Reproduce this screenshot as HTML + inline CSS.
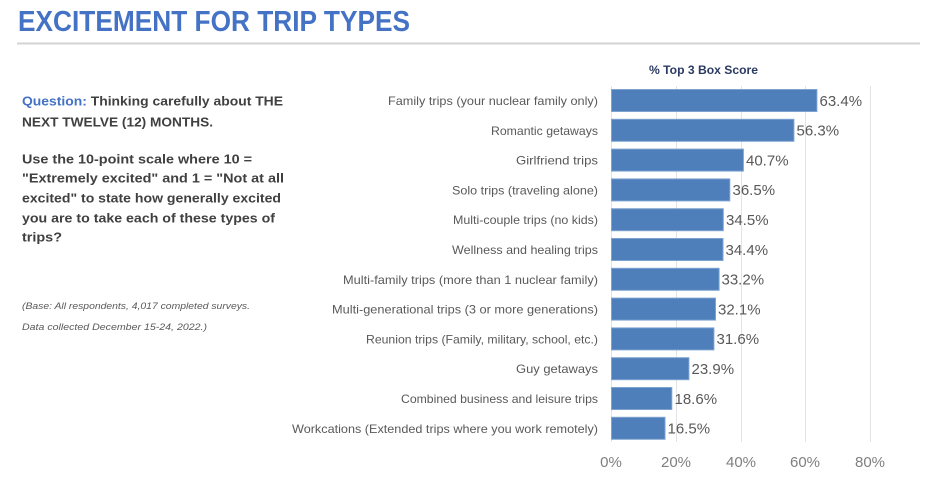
<!DOCTYPE html>
<html>
<head>
<meta charset="utf-8">
<style>
  html,body{margin:0;padding:0;background:#fff;}
  svg{display:block;}
  text{font-family:"Liberation Sans",sans-serif;}
</style>
</head>
<body>
<svg width="936" height="493" viewBox="0 0 936 493" xmlns="http://www.w3.org/2000/svg">
  <rect width="936" height="493" fill="#fff"/>
  <!-- Title -->
  <text x="18" y="31" font-family="'Liberation Sans Narrow','Liberation Sans',sans-serif" font-size="29" font-weight="bold" fill="#4472C4" textLength="392" lengthAdjust="spacingAndGlyphs">EXCITEMENT FOR TRIP TYPES</text>
  <line x1="17" y1="43.5" x2="920" y2="43.5" stroke="#d3d3d3" stroke-width="2"/>

  <!-- Left question text -->
  <g font-size="13" font-weight="bold" fill="#404040">
    <text x="22" y="105.5" textLength="261" lengthAdjust="spacingAndGlyphs"><tspan fill="#4472C4">Question:</tspan> Thinking carefully about THE</text>
    <text x="22" y="126.5" textLength="191" lengthAdjust="spacingAndGlyphs">NEXT TWELVE (12) MONTHS.</text>
    <text x="22" y="163.5" textLength="230" lengthAdjust="spacingAndGlyphs">Use the 10-point scale where 10 =</text>
    <text x="22" y="182.5" textLength="262" lengthAdjust="spacingAndGlyphs">"Extremely excited" and 1 = "Not at all</text>
    <text x="22" y="202.5" textLength="259" lengthAdjust="spacingAndGlyphs">excited" to state how generally excited</text>
    <text x="22" y="222.5" textLength="253" lengthAdjust="spacingAndGlyphs">you are to take each of these types of</text>
    <text x="22" y="241.5" textLength="40" lengthAdjust="spacingAndGlyphs">trips?</text>
  </g>
  <g font-size="9" font-style="italic" fill="#595959">
    <text x="22" y="309" textLength="228" lengthAdjust="spacingAndGlyphs">(Base: All respondents, 4,017 completed surveys.</text>
    <text x="22" y="330" textLength="185" lengthAdjust="spacingAndGlyphs">Data collected December 15-24, 2022.)</text>
  </g>

  <!-- Chart title -->
  <text x="649" y="74" font-size="12" font-weight="bold" fill="#2B3A63" textLength="109" lengthAdjust="spacingAndGlyphs">% Top 3 Box Score</text>

  <!-- Gridlines -->
  <g stroke="#e3e3e3" stroke-width="1">
    <line x1="611.5" y1="86" x2="611.5" y2="442"/>
    <line x1="676.5" y1="86" x2="676.5" y2="442"/>
    <line x1="741.5" y1="86" x2="741.5" y2="442"/>
    <line x1="805.5" y1="86" x2="805.5" y2="442"/>
    <line x1="870.5" y1="86" x2="870.5" y2="442"/>
  </g>

  <!-- Bars -->
  <g fill="#4E7FBB" stroke="#7EA3D0" stroke-width="1">
    <rect x="611.5" y="89.5" width="205.4" height="22"/>
    <rect x="611.5" y="119.3" width="182.4" height="22"/>
    <rect x="611.5" y="149.1" width="131.9" height="22"/>
    <rect x="611.5" y="178.9" width="118.3" height="22"/>
    <rect x="611.5" y="208.7" width="111.8" height="22"/>
    <rect x="611.5" y="238.5" width="111.5" height="22"/>
    <rect x="611.5" y="268.3" width="107.6" height="22"/>
    <rect x="611.5" y="298.1" width="104.0" height="22"/>
    <rect x="611.5" y="327.9" width="102.4" height="22"/>
    <rect x="611.5" y="357.7" width="77.4" height="22"/>
    <rect x="611.5" y="387.5" width="60.3" height="22"/>
    <rect x="611.5" y="417.3" width="53.5" height="22"/>
  </g>

  <!-- Category labels -->
  <g font-size="12" fill="#595959" text-anchor="end">
    <text x="598" y="105" textLength="210" lengthAdjust="spacingAndGlyphs">Family trips (your nuclear family only)</text>
    <text x="598" y="134.8" textLength="107" lengthAdjust="spacingAndGlyphs">Romantic getaways</text>
    <text x="598" y="164.6" textLength="82" lengthAdjust="spacingAndGlyphs">Girlfriend trips</text>
    <text x="598" y="194.4" textLength="146" lengthAdjust="spacingAndGlyphs">Solo trips (traveling alone)</text>
    <text x="598" y="224.2" textLength="145" lengthAdjust="spacingAndGlyphs">Multi-couple trips (no kids)</text>
    <text x="598" y="254" textLength="146" lengthAdjust="spacingAndGlyphs">Wellness and healing trips</text>
    <text x="598" y="283.8" textLength="255" lengthAdjust="spacingAndGlyphs">Multi-family trips (more than 1 nuclear family)</text>
    <text x="598" y="313.6" textLength="266" lengthAdjust="spacingAndGlyphs">Multi-generational trips (3 or more generations)</text>
    <text x="598" y="343.4" textLength="232" lengthAdjust="spacingAndGlyphs">Reunion trips (Family, military, school, etc.)</text>
    <text x="598" y="373.2" textLength="82" lengthAdjust="spacingAndGlyphs">Guy getaways</text>
    <text x="598" y="403" textLength="197" lengthAdjust="spacingAndGlyphs">Combined business and leisure trips</text>
    <text x="598" y="432.8" textLength="306" lengthAdjust="spacingAndGlyphs">Workcations (Extended trips where you work remotely)</text>
  </g>

  <!-- Data labels -->
  <g font-size="15" fill="#595959">
    <text x="819.5" y="105.8">63.4%</text>
    <text x="796.5" y="135.6">56.3%</text>
    <text x="746" y="165.4">40.7%</text>
    <text x="732.5" y="195.2">36.5%</text>
    <text x="726" y="225">34.5%</text>
    <text x="725.5" y="254.8">34.4%</text>
    <text x="721.5" y="284.6">33.2%</text>
    <text x="718" y="314.4">32.1%</text>
    <text x="716.5" y="344.2">31.6%</text>
    <text x="691.5" y="374">23.9%</text>
    <text x="674.5" y="403.8">18.6%</text>
    <text x="667.5" y="433.6">16.5%</text>
  </g>

  <!-- Axis labels -->
  <g font-size="15" fill="#7F7F7F" text-anchor="middle">
    <text x="611" y="467">0%</text>
    <text x="676" y="467">20%</text>
    <text x="741" y="467">40%</text>
    <text x="805" y="467">60%</text>
    <text x="870" y="467">80%</text>
  </g>
</svg>
</body>
</html>
